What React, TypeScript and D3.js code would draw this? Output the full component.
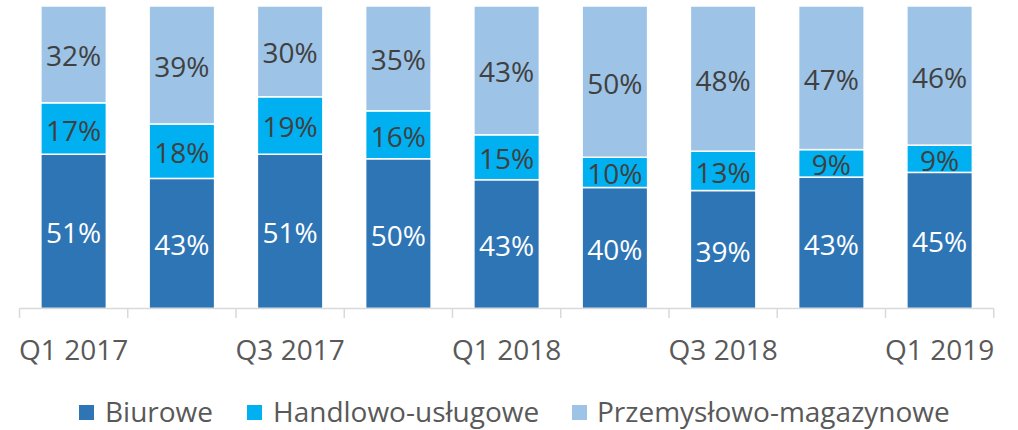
import React from 'react';
import * as d3 from 'd3';

// quarters on the x axis, only every other one gets a label
const quarters = ['Q1 2017', 'Q2 2017', 'Q3 2017', 'Q4 2017', 'Q1 2018', 'Q2 2018', 'Q3 2018', 'Q4 2018', 'Q1 2019'];
const seriesNames = ['Biurowe', 'Handlowo-usługowe', 'Przemysłowo-magazynowe'];
const biurowe = [51, 43, 51, 50, 43, 40, 39, 43, 45];
const handlowe = [17, 18, 19, 16, 15, 10, 13, 9, 9];
const przemyslowe = [32, 39, 30, 35, 43, 50, 48, 47, 46];
const colors = ['#2E75B6', '#00B0F0', '#9DC3E6'];
const labelColors = ['#FFFFFF', '#404040', '#404040'];

const width = 1018;
const height = 430;
const font = '"Open Sans", sans-serif';

export default function App() {
    const rows = quarters.map((q, i) => ({
        q,
        s0: biurowe[i],
        s1: handlowe[i],
        s2: przemyslowe[i],
    }));
    const vals = [biurowe, handlowe, przemyslowe];

    const stacked = d3.stack<any>()
        .keys(['s0', 's1', 's2'])
        .offset(d3.stackOffsetExpand)(rows);

    const x = d3.scaleBand()
        .domain(quarters)
        .range([19.5, 993.75])
        .paddingInner(0.395)
        .paddingOuter(0.1975);

    const y = d3.scaleLinear().domain([0, 1]).range([308.5, 6]);

    const step = x.step();
    const x0 = 19.5;
    const ticks = d3.range(quarters.length + 1).map(i => x0 + i * step);

    const legend = [
        { sx: 79, tx: 105 },
        { sx: 247, tx: 273 },
        { sx: 572, tx: 597 },
    ];

    return (
        <svg width={width} height={height} style={{ position: 'absolute', left: 0, top: 0 }}>
            {stacked.map((layer, li) => (
                <g key={li}>
                    {layer.map((d, i) => (
                        <rect
                            key={i}
                            x={x(quarters[i])}
                            y={y(d[1])}
                            width={x.bandwidth()}
                            height={y(d[0]) - y(d[1])}
                            fill={colors[li]}
                            stroke="#fff"
                            strokeWidth={1.5}
                        />
                    ))}
                </g>
            ))}
            {stacked.map((layer, li) => (
                <g key={'l' + li}>
                    {layer.map((d, i) => (
                        <text
                            key={i}
                            x={x(quarters[i])! + x.bandwidth() / 2}
                            y={(y(d[0]) + y(d[1])) / 2 + 1}
                            textAnchor="middle"
                            dominantBaseline="central"
                            fontFamily={font}
                            fontSize={28}
                            fill={labelColors[li]}
                        >
                            {vals[li][i]}%
                        </text>
                    ))}
                </g>
            ))}
            <line x1={x0} x2={ticks[ticks.length - 1]} y1={308.5} y2={308.5} stroke="#D9D9D9" strokeWidth={1.5} />
            {ticks.map((t, i) => (
                <line key={i} x1={t} x2={t} y1={308.5} y2={318} stroke="#D9D9D9" strokeWidth={1.5} />
            ))}
            {quarters.map((q, i) => i % 2 === 0 ? (
                <text
                    key={q}
                    x={x(q)! + x.bandwidth() / 2}
                    y={360}
                    textAnchor="middle"
                    fontFamily={font}
                    fontSize={28}
                    fill="#595959"
                >
                    {q}
                </text>
            ) : null)}
            {seriesNames.map((n, i) => (
                <g key={n}>
                    <rect x={legend[i].sx} y={405} width={15} height={15} fill={colors[i]} />
                    <text x={legend[i].tx} y={422} fontFamily={font} fontSize={28} fill="#595959">{n}</text>
                </g>
            ))}
        </svg>
    );
}
